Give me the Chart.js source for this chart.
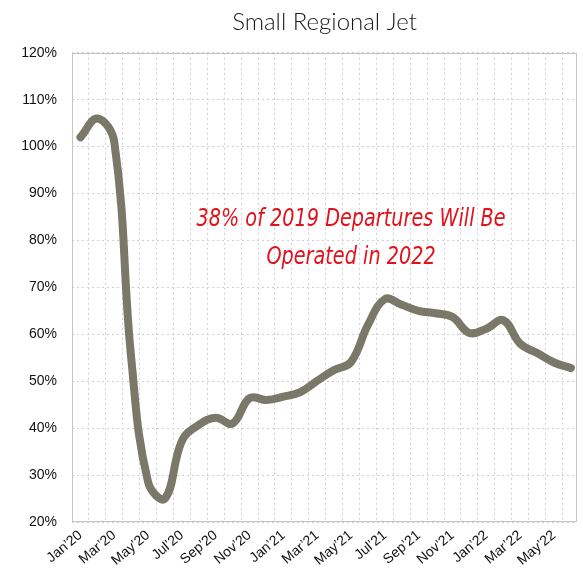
<!DOCTYPE html>
<html>
<head>
<meta charset="utf-8">
<script src="https://cdn.jsdelivr.net/npm/chart.js@4"></script>
<style>
  html, body { margin: 0; padding: 0; background: #fff; }
  #wrap { width: 583px; height: 576px; }
</style>
</head>
<body>
<div id="wrap"><canvas id="jetChart" width="583" height="576"></canvas></div>
<script>
// monthly departures as share of 2019, Jan'20 .. Jun'22
var months = [
  'Jan’20', 'Feb’20', 'Mar’20', 'Apr’20', 'May’20', 'Jun’20',
  'Jul’20', 'Aug’20', 'Sep’20', 'Oct’20', 'Nov’20', 'Dec’20',
  'Jan’21', 'Feb’21', 'Mar’21', 'Apr’21', 'May’21', 'Jun’21',
  'Jul’21', 'Aug’21', 'Sep’21', 'Oct’21', 'Nov’21', 'Dec’21',
  'Jan’22', 'Feb’22', 'Mar’22', 'Apr’22', 'May’22', 'Jun’22'
];
var departures = [
  102, 106, 101, 55, 28.5, 25,
  37.3, 40.7, 42.2, 41, 46.4, 46,
  46.7, 47.7, 50.1, 52.4, 54.1, 62,
  67.5, 66.3, 65, 64.5, 63.7, 60.3,
  61.2, 63, 58, 56, 54, 52.8
];
var yTicks = [20, 30, 40, 50, 60, 70, 80, 90, 100, 110, 120];
var noteLines = ['38% of 2019 Departures Will Be', 'Operated in 2022'];
var noteAnchor = { month: 16, pct: 83 };

var points = departures.map(function (v, i) { return { x: i, y: v }; });

var gridGray = '#d0d0d0';
var tickFont = { family: '"Liberation Sans", Arial, sans-serif', size: 14 };

// box around the plot area plus the red note
var frameAndNote = {
  id: 'frameAndNote',
  beforeDatasetsDraw: function (chart) {
    var a = chart.chartArea, ctx = chart.ctx;
    ctx.save();
    ctx.strokeStyle = '#c4c4c4';
    ctx.lineWidth = 1;
    ctx.strokeRect(Math.round(a.left) + 0.5, Math.round(a.top) + 0.5,
                   Math.round(a.width) - 1, Math.round(a.height) - 1);
    ctx.restore();
  },
  afterDatasetsDraw: function (chart) {
    var ctx = chart.ctx;
    var x = chart.scales.x.getPixelForValue(noteAnchor.month);
    var y = chart.scales.y.getPixelForValue(noteAnchor.pct);
    ctx.save();
    ctx.translate(x, y);
    ctx.scale(0.77, 1); // squeeze into a condensed look
    ctx.fillStyle = '#e0121c';
    ctx.font = 'italic 25px "DejaVu Sans", sans-serif';
    ctx.textAlign = 'center';
    ctx.textBaseline = 'alphabetic';
    noteLines.forEach(function (t, i) { ctx.fillText(t, 0, i * 38); });
    ctx.restore();
  }
};

new Chart(document.getElementById('jetChart'), {
  type: 'line',
  data: {
    datasets: [{
      label: 'Small Regional Jet',
      data: points,
      borderColor: '#7a7868',
      borderWidth: 8,
      borderCapStyle: 'round',
      borderJoinStyle: 'round',
      pointRadius: 0,
      tension: 0.4,
      fill: false
    }]
  },
  options: {
    responsive: false,
    animation: false,
    layout: { padding: { left: 0, right: 6, top: 0, bottom: 0 } },
    plugins: {
      legend: { display: false },
      tooltip: { enabled: false },
      title: {
        display: true,
        fullSize: false,
        text: 'Small Regional Jet',
        color: '#1a1a1a',
        font: { family: 'Lato, sans-serif', size: 24, weight: 300, lineHeight: 1.2 },
        padding: { top: 8, bottom: 16 }
      }
    },
    scales: {
      x: {
        type: 'linear',
        min: -0.5,
        max: 29.36,
        afterBuildTicks: function (axis) {
          var t = [];
          for (var i = 0; i < months.length; i++) {
            if (i % 2 === 0) t.push({ value: i });
            if (i + 0.5 < axis.max) t.push({ value: i + 0.5 });
          }
          axis.ticks = t;
        },
        afterFit: function (axis) { axis.height = 54; },
        grid: {
          color: function (c) {
            return c.tick && Number.isInteger(c.tick.value) ? 'rgba(0,0,0,0)' : gridGray;
          },
          drawTicks: false
        },
        border: { display: false, dash: [2, 3] },
        ticks: {
          autoSkip: false,
          minRotation: 40,
          maxRotation: 40,
          padding: 5,
          color: '#111',
          font: tickFont,
          callback: function (v) {
            return Number.isInteger(v) && v % 2 === 0 ? months[v] : '';
          }
        }
      },
      y: {
        min: yTicks[0],
        max: yTicks[yTicks.length - 1],
        afterBuildTicks: function (axis) {
          axis.ticks = yTicks.map(function (v) { return { value: v }; });
        },
        afterFit: function (axis) { axis.width = 72; },
        grid: { color: gridGray, drawTicks: false },
        border: { display: false, dash: [2, 3] },
        ticks: {
          padding: 15,
          color: '#111',
          font: tickFont,
          callback: function (v) { return v + '%'; }
        }
      }
    }
  },
  plugins: [frameAndNote]
});
</script>
</body>
</html>
